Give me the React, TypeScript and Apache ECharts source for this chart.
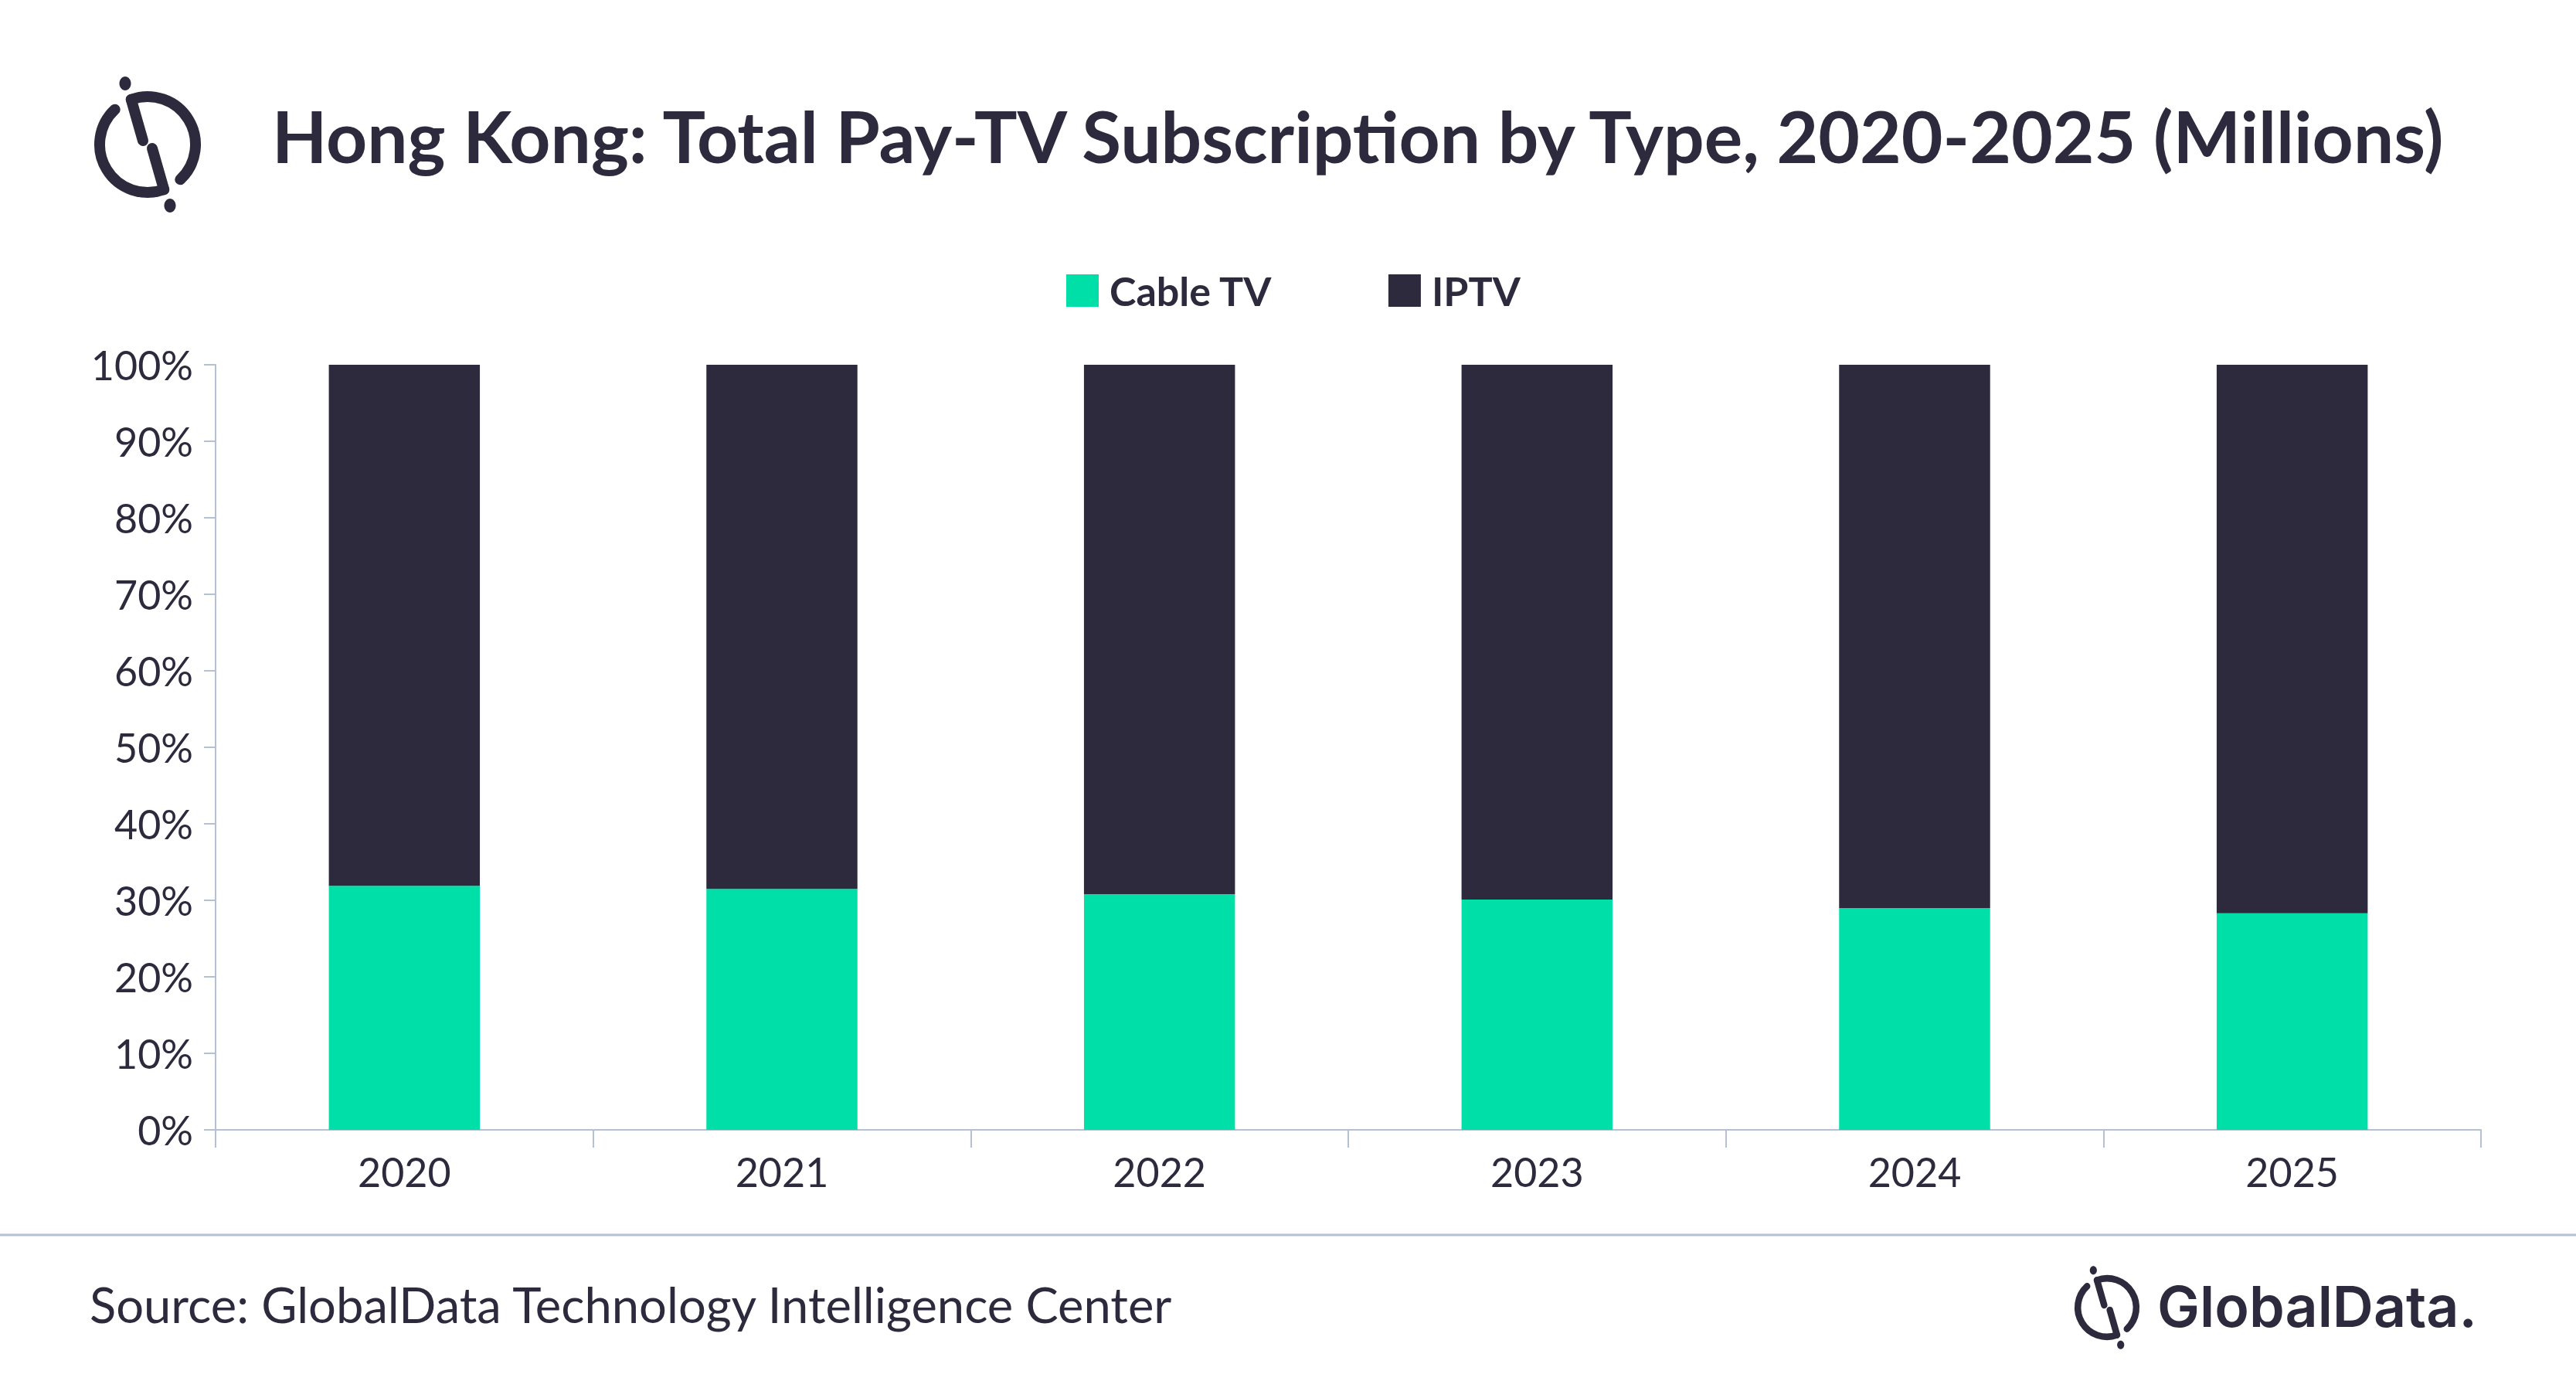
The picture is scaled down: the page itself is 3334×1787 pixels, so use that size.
import React, { useEffect, useRef } from "react";
import * as echarts from "echarts";

const categories = ["2020", "2021", "2022", "2023", "2024", "2025"];
const cableTV = [31.9, 31.5, 30.8, 30.1, 29.0, 28.3];
const iptv = [68.1, 68.5, 69.2, 69.9, 71.0, 71.7];
const seriesNames = ["Cable TV", "IPTV"];
const yTicks = { min: 0, max: 100, interval: 10 };

const TITLE = "Hong Kong: Total Pay-TV Subscription by Type, 2020-2025 (Millions)";
const SOURCE = "Source: GlobalData Technology Intelligence Center";
const BRAND = "GlobalData.";

const DARK = "#2e2a3d";
const GREEN = "#00dfa7";
const AXIS = "#b4c0d3";
const FONT = "Lato";

function fitSize(text: string, weight: string, family: string, width: number, fallback: number) {
  const c = document.createElement("canvas").getContext("2d");
  if (!c) return fallback;
  c.font = `${weight} 100px "${family}"`;
  const w = c.measureText(text).width;
  return w > 0 ? (100 * width) / w : fallback;
}

function logo(cx: number, cy: number, s: number) {
  const R = 62;
  const deg = (a: number) => (a * Math.PI) / 180;
  const st = { stroke: DARK, lineWidth: 14, lineCap: "round", fill: null };
  const pTop = [R * Math.cos(deg(-110)), R * Math.sin(deg(-110))];
  const pBot = [R * Math.cos(deg(70)), R * Math.sin(deg(70))];
  return {
    type: "group",
    x: cx,
    y: cy,
    scaleX: s,
    scaleY: s,
    children: [
      { type: "arc", shape: { cx: 0, cy: 0, r: R, startAngle: deg(-110), endAngle: deg(47), clockwise: true }, style: st },
      { type: "arc", shape: { cx: 0, cy: 0, r: R, startAngle: deg(70), endAngle: deg(227), clockwise: true }, style: st },
      { type: "line", shape: { x1: pTop[0], y1: pTop[1], x2: -6, y2: -5 }, style: st },
      { type: "line", shape: { x1: 6, y1: 5, x2: pBot[0], y2: pBot[1] }, style: st },
      { type: "ellipse", shape: { cx: -29, cy: -79, rx: 7.5, ry: 9 }, style: { fill: DARK } },
      { type: "ellipse", shape: { cx: 29, cy: 79, rx: 7.5, ry: 9 }, style: { fill: DARK } },
    ],
  };
}

export default function App() {
  const ref = useRef<HTMLDivElement>(null);
  useEffect(() => {
    document.body.style.margin = "0";
    if (!ref.current) return;
    const chart = echarts.init(ref.current, undefined, { renderer: "svg" });
    const titleSize = fitSize(TITLE, "bold", FONT, 2822, 80);
    const sourceSize = fitSize(SOURCE, "normal", FONT, 1404, 58);
    const brandSize = fitSize(BRAND, "600", "Inter", 414, 70);
    chart.setOption({
      animation: false,
      backgroundColor: "#ffffff",
      textStyle: { fontFamily: FONT, color: DARK },
      grid: { left: 279, right: 123, top: 472, bottom: 325, containLabel: false },
      legend: {
        data: seriesNames,
        left: 1380,
        top: 350,
        padding: 0,
        itemWidth: 42,
        itemHeight: 42,
        itemGap: 150,
        icon: "rect",
        textStyle: { fontSize: 52, fontWeight: "bold", color: DARK, fontFamily: FONT, padding: [0, 0, 0, 9] },
      },
      xAxis: {
        type: "category",
        data: categories,
        axisLine: { lineStyle: { color: AXIS, width: 2 } },
        axisTick: { show: true, length: 23, alignWithLabel: false, interval: 0, lineStyle: { color: AXIS, width: 2 } },
        axisLabel: { fontSize: 52, color: DARK, fontFamily: FONT, margin: 28 },
        splitLine: { show: false },
      },
      yAxis: {
        type: "value",
        min: yTicks.min,
        max: yTicks.max,
        interval: yTicks.interval,
        axisLine: { show: true, lineStyle: { color: AXIS, width: 2 } },
        axisTick: { show: true, length: 15, lineStyle: { color: AXIS, width: 2 } },
        axisLabel: { fontSize: 52, color: DARK, fontFamily: FONT, margin: 29, formatter: "{value}%" },
        splitLine: { show: false },
      },
      series: [
        { name: seriesNames[0], type: "bar", stack: "total", barWidth: "40%", data: cableTV, itemStyle: { color: GREEN } },
        { name: seriesNames[1], type: "bar", stack: "total", barWidth: "40%", data: iptv, itemStyle: { color: DARK } },
      ],
      graphic: {
        elements: [
          logo(191, 187, 1),
          {
            type: "text",
            x: 352,
            y: 175,
            style: { text: TITLE, fontSize: titleSize, fontWeight: "bold", fontFamily: FONT, fill: DARK, align: "left", verticalAlign: "middle" },
          },
          { type: "line", shape: { x1: 0, y1: 1598, x2: 3334, y2: 1598 }, style: { stroke: AXIS, lineWidth: 3 } },
          {
            type: "text",
            x: 116,
            y: 1687,
            style: { text: SOURCE, fontSize: sourceSize, fontFamily: FONT, fill: DARK, align: "left", verticalAlign: "middle" },
          },
          logo(2727, 1692, 0.61),
          {
            type: "text",
            x: 2792,
            y: 1690,
            style: { text: BRAND, fontSize: brandSize, fontWeight: 600, fontFamily: "Inter", fill: DARK, align: "left", verticalAlign: "middle" },
          },
        ],
      },
    });
    return () => chart.dispose();
  }, []);
  return <div ref={ref} style={{ width: 3334, height: 1787 }} />;
}
